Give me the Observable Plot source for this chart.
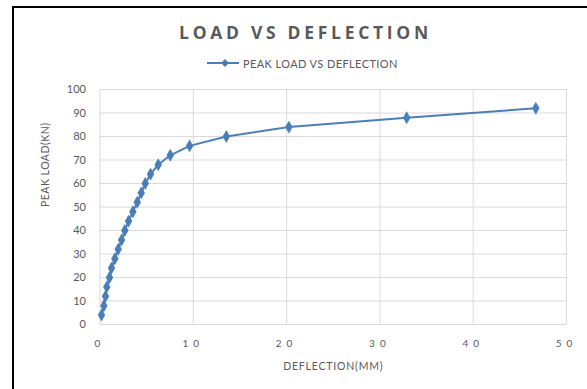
<!DOCTYPE html>
<html>
<head>
<meta charset="utf-8">
<script src="https://cdn.jsdelivr.net/npm/d3@7"></script>
<script src="https://cdn.jsdelivr.net/npm/@observablehq/plot@0.6"></script>
<style>
  html, body { margin: 0; padding: 0; background: #fff; }
  #wrap { position: relative; width: 587px; height: 389px; overflow: hidden; font-family: Lato, "Open Sans", sans-serif; }
  #frame { position: absolute; left: 12px; top: 6px; width: 600px; height: 400px; border-left: 2px solid #000; border-top: 2px solid #000; pointer-events: none; }
  #header { position: relative; height: 80px; }
  #title { position: absolute; left: 0; width: 587px; top: 19.5px; text-align: center; padding-left: 24px; box-sizing: border-box;
           font-family: "Open Sans", Lato, sans-serif; font-size: 17.5px; line-height: normal; font-weight: 700; letter-spacing: 3.7px; color: #595959; white-space: nowrap; }
  #legend-swatch { position: absolute; left: 207px; top: 57px; }
  #legend-text { position: absolute; left: 243px; top: 56.5px; font-size: 11px; line-height: normal; letter-spacing: 0.4px; color: #595959; white-space: nowrap; }
  #chart svg text { fill: #595959; }
</style>
</head>
<body>
<div id="wrap">
  <div id="header">
    <div id="title">LOAD VS DEFLECTION</div>
    <svg id="legend-swatch" width="32" height="12"><line x1="0" y1="6" x2="32" y2="6" stroke="#4a7ebb" stroke-width="2"/><path d="M18,2 L22,6 L18,10 L14,6 Z" fill="#4a7ebb"/></svg>
    <div id="legend-text">PEAK LOAD VS DEFLECTION</div>
  </div>
  <div id="chart"></div>
  <div id="frame"></div>
</div>
<script>
const deflection = [0.16, 0.41, 0.59, 0.73, 1.02, 1.23, 1.59, 1.95, 2.31, 2.66, 3.06, 3.52, 3.99, 4.42, 4.85, 5.42, 6.24, 7.53, 9.6, 13.54, 20.25, 32.87, 46.71];
const peakLoad   = [4, 8, 12, 16, 20, 24, 28, 32, 36, 40, 44, 48, 52, 56, 60, 64, 68, 72, 76, 80, 84, 88, 92];
const xTicks = [0, 10, 20, 30, 40, 50];
const yTicks = [0, 10, 20, 30, 40, 50, 60, 70, 80, 90, 100];
const xLabel = "DEFLECTION(MM)";
const yLabel = "PEAK LOAD(KN)";

const data = deflection.map((d, i) => ({x: d, y: peakLoad[i]}));
const lineColor = "#4a7ebb";
const gridColor = "#d9d9d9";

const chart = Plot.plot({
  width: 587,
  height: 309,
  marginLeft: 99.5,
  marginRight: 21,
  marginTop: 9,
  marginBottom: 65,
  style: {fontFamily: "Lato, 'Open Sans', sans-serif", fontSize: "11px", color: "#595959", background: "transparent"},
  x: {domain: [0, 50]},
  y: {domain: [0, 100]},
  marks: [
    Plot.gridX(xTicks, {stroke: gridColor, strokeOpacity: 1, strokeWidth: 1}),
    Plot.gridY(yTicks, {stroke: gridColor, strokeOpacity: 1, strokeWidth: 1}),
    Plot.axisY(yTicks, {tickSize: 0, tickPadding: 14, fontSize: 11, label: null, fill: "#595959"}),
    Plot.axisX(xTicks, {tickSize: 0, tickPadding: 15, fontSize: 10, label: null, fill: "#595959"}),
    Plot.text([yLabel], {frameAnchor: "left", rotate: -90, dx: -54, fontSize: 10.5, fill: "#595959"}),
    Plot.text([xLabel], {frameAnchor: "bottom", dy: 45, fontSize: 10.5, fill: "#595959"}),
    Plot.line(data, {x: "x", y: "y", stroke: lineColor, strokeWidth: 2}),
    Plot.dot(data, {x: "x", y: "y", symbol: "diamond", r: 3.9, fill: lineColor, stroke: "none"})
  ]
});
const sel = d3.select(chart);
sel.selectAll('g[aria-label="x-axis tick label"] text').style("letter-spacing", "5px");
const textGroups = sel.selectAll('g[aria-label="text"]').nodes();
if (textGroups[0]) d3.select(textGroups[0]).selectAll("text").style("letter-spacing", "0.5px");
if (textGroups[1]) d3.select(textGroups[1]).selectAll("text").style("letter-spacing", "0.8px");
document.getElementById("chart").appendChild(chart);
</script>
</body>
</html>
